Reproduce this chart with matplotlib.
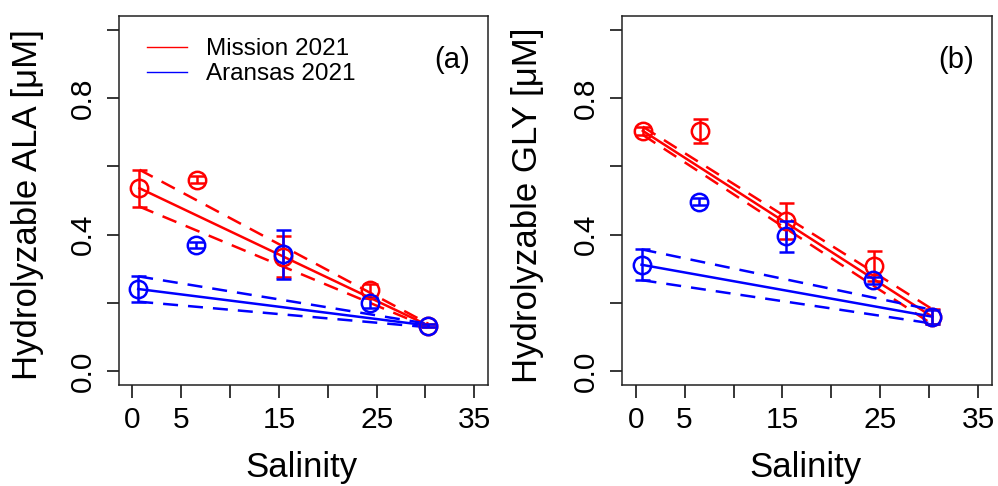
import numpy as np
import matplotlib
matplotlib.use("Agg")
import matplotlib.pyplot as plt
import matplotlib.lines as mlines

plt.rcParams["font.family"] = ["Liberation Sans", "DejaVu Sans"]

# salinity of the sampling stations (river -> bay)
SAL_MISSION = [0.73, 6.57, 15.4, 24.35, 30.3]
SAL_ARANSAS = [0.60, 6.50, 15.4, 24.30, 30.3]

# (a) hydrolyzable ALA, uM
ALA_MISSION    = [0.536, 0.561, 0.335, 0.237, 0.134]
ALA_MISSION_SD = [0.054, 0.010, 0.060, 0.020, 0.005]
ALA_ARANSAS    = [0.241, 0.370, 0.342, 0.199, 0.134]
ALA_ARANSAS_SD = [0.037, 0.010, 0.071, 0.015, 0.005]

# (b) hydrolyzable GLY, uM
GLY_MISSION    = [0.704, 0.704, 0.439, 0.307, 0.160]
GLY_MISSION_SD = [0.012, 0.035, 0.053, 0.044, 0.022]
GLY_ARANSAS    = [0.312, 0.497, 0.395, 0.267, 0.160]
GLY_ARANSAS_SD = [0.045, 0.010, 0.046, 0.010, 0.020]

XTICKS  = [0, 5, 10, 15, 20, 25, 30, 35]
XLABELS = ["0", "5", "", "15", "", "25", "", "35"]
YTICKS  = [0.0, 0.2, 0.4, 0.6, 0.8, 1.0]
YLABELS = ["0.0", "", "0.4", "", "0.8", ""]

RED, BLUE = "#FF0000", "#0000FF"
LW = 1.8


def mixing(ax, sal, val, sd, color):
    """conservative mixing line between end members (+/- sd dashed)."""
    xs = [sal[0], sal[-1]]
    ax.plot(xs, [val[0], val[-1]], color=color, lw=LW, zorder=2)
    for sgn in (1, -1):
        ax.plot(xs, [val[0] + sgn * sd[0], val[-1] + sgn * sd[-1]],
                color=color, lw=LW, dashes=(6, 4), zorder=2)
    ax.errorbar(sal, val, yerr=sd, fmt="o", mfc="none", mec=color,
                ms=12.5, mew=1.8, ecolor=color, elinewidth=1.8,
                capsize=5.4, capthick=1.8, zorder=3)


def panel(ax, mission, mission_sd, aransas, aransas_sd, ylabel, tag, ylab_x):
    mixing(ax, SAL_MISSION, mission, mission_sd, RED)
    mixing(ax, SAL_ARANSAS, aransas, aransas_sd, BLUE)

    ax.set_xlim(-1.4, 36.4)
    ax.set_ylim(-0.04, 1.04)
    ax.set_xticks(XTICKS)
    ax.set_xticklabels(XLABELS)
    ax.set_yticks(YTICKS)
    ax.set_yticklabels(YLABELS, rotation=90, va="center")
    ax.tick_params(length=9, width=1.1, labelsize=21.5, pad=6)
    ax.tick_params(axis="y", pad=7)
    for s in ax.spines.values():
        s.set_linewidth(1.1)
        s.set_color("#222222")

    ax.set_xlabel("Salinity", fontsize=25)
    ax.xaxis.set_label_coords(0.496, -0.18)
    ax.set_ylabel(ylabel, fontsize=25)
    ax.yaxis.set_label_coords(ylab_x, 0.488)

    ax.text(0.902, 0.881, tag, transform=ax.transAxes, fontsize=21,
            ha="center", va="center")


fig = plt.figure(figsize=(9.98, 4.86), dpi=100)
ax_a = fig.add_axes([0.1189, 0.2078, 0.3701, 0.7593])
ax_b = fig.add_axes([0.6232, 0.2078, 0.3707, 0.7593])

panel(ax_a, ALA_MISSION, ALA_MISSION_SD, ALA_ARANSAS, ALA_ARANSAS_SD,
      "Hydrolyzable ALA [μM]", "(a)", -0.202)
panel(ax_b, GLY_MISSION, GLY_MISSION_SD, GLY_ARANSAS, GLY_ARANSAS_SD,
      "Hydrolyzable GLY [μM]", "(b)", -0.211)

handles = [
    mlines.Line2D([], [], color=RED, lw=1.0, label="Mission 2021"),
    mlines.Line2D([], [], color=BLUE, lw=1.0, label="Aransas 2021"),
]
ax_a.legend(handles=handles, loc="upper left", bbox_to_anchor=(0.0758, 0.94),
            frameon=False, fontsize=17.5, handlelength=1.65, handletextpad=0.8,
            labelspacing=0.12, borderpad=0, borderaxespad=0)

fig.savefig("out.png", dpi=100)
